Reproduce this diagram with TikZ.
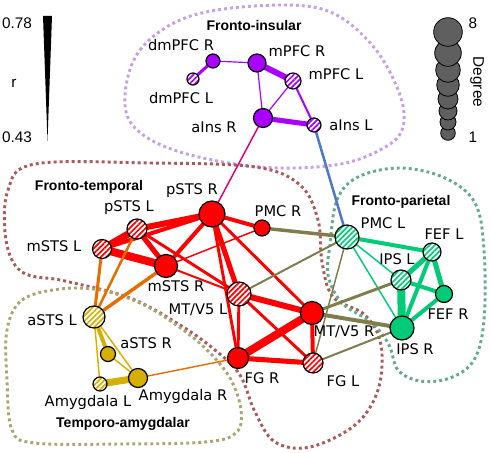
\documentclass[tikz,border=0pt]{standalone}
\usepackage{fontspec}
\setmainfont{DejaVu Sans}
\newfontfamily\arialfont{Liberation Sans}
\usetikzlibrary{patterns.meta}

\definecolor{ftred}{RGB}{255,0,0}
\definecolor{fipurple}{RGB}{170,0,255}
\definecolor{fpgreen}{RGB}{0,204,120}
\definecolor{tagold}{RGB}{215,175,0}
\definecolor{taorange}{RGB}{230,110,0}
\definecolor{fpolive}{RGB}{128,124,75}
\definecolor{fipink}{RGB}{220,0,120}
\definecolor{fiblue}{RGB}{80,120,200}
\definecolor{hullpurple}{RGB}{200,160,225}
\definecolor{hullred}{RGB}{170,90,90}
\definecolor{hullolive}{RGB}{170,165,115}
\definecolor{hullgreen}{RGB}{100,170,140}
\definecolor{degreegray}{RGB}{95,95,95}

\pgfdeclarelayer{hulls}
\pgfdeclarelayer{links}
\pgfsetlayers{hulls,links,main}

\begin{document}
\begin{tikzpicture} [
                x=0.75pt, y=-0.75pt,
                regionnode/.style={
                    circle,
                    draw,
                    line width=0.9pt,
                    inner sep=0pt,
                    minimum size=#1*1.5pt
                },
                hatch/.style={
                    preaction={fill=white},
                    pattern={Lines[angle=45,distance=2.8pt,line width=1.3pt]},
                    pattern color=#1
                },
                lbl/.style={font=\fontsize{11}{13}\selectfont, inner sep=0pt},
                ttl/.style={font=\arialfont\bfseries\fontsize{10.5}{12}\selectfont, inner sep=0pt},
                leg/.style={font=\arialfont\fontsize{11.5}{13}\selectfont, inner sep=0pt},
                hull/.style={draw=#1, line width=2.2pt, dash pattern=on 2.2pt off 2.3pt},
                lk/.style={line width=#1pt}
            ]

                \useasboundingbox (0,0) rectangle (490,453);

                \node[regionnode=7,    fill=fipurple]    (dmpfcR)    at (213,61)     {};
                \node[regionnode=6,    hatch=fipurple]   (dmpfcL)    at (193,79)     {};
                \node[regionnode=9,    fill=fipurple]    (mpfcR)     at (257,63)     {};
                \node[regionnode=8,    hatch=fipurple]   (mpfcL)     at (293,81)     {};
                \node[regionnode=9.5,  fill=fipurple]    (ainsR)     at (263,118)    {};
                \node[regionnode=7,    hatch=fipurple]   (ainsL)     at (314,125)    {};

                \node[regionnode=13,   fill=ftred]       (pstsR)     at (212,214)    {};
                \node[regionnode=10,   hatch=ftred]      (pstsL)     at (137,229)    {};
                \node[regionnode=9.5,  hatch=ftred]      (mstsL)     at (102,249)    {};
                \node[regionnode=11.5, fill=ftred]       (mstsR)     at (166,266)    {};
                \node[regionnode=12,   hatch=ftred]      (mtL)       at (239,294)    {};
                \node[regionnode=11.5, fill=ftred]       (mtR)       at (312,313)    {};
                \node[regionnode=10.5, fill=ftred]       (fgR)       at (238,358)    {};
                \node[regionnode=10,   hatch=ftred]      (fgL)       at (313,363)    {};
                \node[regionnode=8,    fill=ftred]       (pmcR)      at (262,228)    {};

                \node[regionnode=12,   hatch=fpgreen]    (pmcL)      at (347,237)    {};
                \node[regionnode=9,    hatch=fpgreen]    (fefL)      at (432,252)    {};
                \node[regionnode=10,   hatch=fpgreen]    (ipsL)      at (401,280)    {};
                \node[regionnode=8.5,  fill=fpgreen]     (fefR)      at (444,294)    {};
                \node[regionnode=12,   fill=fpgreen]     (ipsR)      at (402,328)    {};

                \node[regionnode=11,   hatch=tagold]     (astsL)     at (94,317)     {};
                \node[regionnode=7.5,  fill=tagold]      (astsR)     at (108,354)    {};
                \node[regionnode=7,    hatch=tagold]     (amyL)      at (100,384)    {};
                \node[regionnode=9.5,  fill=tagold]      (amyR)      at (138,378)    {};

                \node[lbl]  (dmpfcRlbl)  at (181,45)     {dmPFC R};
                \node[lbl]  (dmpfcLlbl)  at (181,98)     {dmPFC L};
                \node[lbl]  (mpfcRlbl)   at (297,51)     {mPFC R};
                \node[lbl]  (mpfcLlbl)   at (336,74)     {mPFC L};
                \node[lbl]  (ainsRlbl)   at (214,127)    {aIns R};
                \node[lbl]  (ainsLlbl)   at (351,125)    {aIns L};
                \node[lbl]  (pstsRlbl)   at (192,191)    {pSTS R};
                \node[lbl]  (pstsLlbl)   at (129,208)    {pSTS L};
                \node[lbl]  (mstsLlbl)   at (54,246)     {mSTS L};
                \node[lbl]  (mstsRlbl)   at (176,286)    {mSTS R};
                \node[lbl]  (mtLlbl)     at (198,310)    {MT/V5 L};
                \node[lbl]  (mtRlbl)     at (344,332)    {MT/V5 R};
                \node[lbl]  (fgRlbl)     at (262,378)    {FG R};
                \node[lbl]  (fgLlbl)     at (343,381)    {FG L};
                \node[lbl]  (pmcRlbl)    at (278,211)    {PMC R};
                \node[lbl]  (pmcLlbl)    at (383,223)    {PMC L};
                \node[lbl]  (fefLlbl)    at (444,234)    {FEF L};
                \node[lbl]  (ipsLlbl)    at (397,259)    {IPS L};
                \node[lbl]  (fefRlbl)    at (448,314)    {FEF R};
                \node[lbl]  (ipsRlbl)    at (415,349)    {IPS R};
                \node[lbl]  (astsLlbl)   at (52,320)     {aSTS L};
                \node[lbl]  (astsRlbl)   at (146,343)    {aSTS R};
                \node[lbl]  (amyLlbl)    at (88,402)     {Amygdala L};
                \node[lbl]  (amyRlbl)    at (183,396)    {Amygdala R};

                \node[ttl]  (fiTitle)    at (254,25)     {Fronto-insular};
                \node[ttl]  (ftTitle)    at (89,187)     {Fronto-temporal};
                \node[ttl]  (fpTitle)    at (401,202)    {Fronto-parietal};
                \node[ttl]  (taTitle)    at (123,424)    {Temporo-amygdalar};

                \fill (43,16) -- (52,16) -- (47.5,141) -- cycle;
                \node[leg]  (rHi)        at (17,23)      {0.78};
                \node[leg]  (rName)      at (14,83)      {r};
                \node[leg]  (rLo)        at (17,137)     {0.43};

                \foreach \cy/\cr in {133/7.3, 122/8, 111/9, 99/10, 85/11.3, 70/12.3, 53/13.3, 32/14.3}
                    \draw[fill=degreegray, line width=0.6pt] (448,\cy) circle[radius=\cr*0.75pt];
                \node[leg]  (degHi)      at (473,23)     {8};
                \node[leg]  (degLo)      at (473,137)    {1};
                \node[leg, rotate=-90] (degName) at (477,82) {Degree};

                \begin{pgfonlayer}{hulls}
                \draw[hull=hullpurple] plot[smooth cycle, tension=0.6] coordinates {(125,95) (140,50) (185,18) (255,6) (325,10) (372,45) (400,95) (402,130) (380,150) (335,165) (260,167) (180,152) (135,128)};
                \draw[hull=hullred] plot[smooth cycle, tension=0.6] coordinates {(35,164) (150,163) (255,167) (300,185) (318,220) (322,262) (333,297) (365,315) (381,345) (378,390) (355,425) (310,447) (275,442) (255,412) (240,375) (215,350) (180,325) (130,298) (65,281) (22,272) (6,240) (8,190)};
                \draw[hull=hullolive] plot[smooth cycle, tension=0.6] coordinates {(7,330) (22,300) (60,289) (100,290) (140,303) (172,322) (205,348) (230,378) (241,410) (236,433) (205,442) (120,444) (35,443) (12,430) (7,380)};
                \draw[hull=hullgreen] plot[smooth cycle, tension=0.6] coordinates {(330,245) (337,200) (358,177) (400,168) (445,178) (475,203) (484,250) (484,320) (474,360) (450,378) (420,381) (398,370) (389,345) (372,323) (342,303) (328,275)};
                \end{pgfonlayer}

                \begin{pgfonlayer}{links}
                \draw[lk=2.3, fipurple]  (dmpfcR.center) -- (dmpfcL.center);
                \draw[lk=0.9, fipurple]  (dmpfcR.center) -- (mpfcR.center);
                \draw[lk=4.5, fipurple]  (mpfcR.center)  -- (mpfcL.center);
                \draw[lk=0.9, fipurple]  (mpfcR.center)  -- (ainsR.center);
                \draw[lk=0.9, fipurple]  (mpfcL.center)  -- (ainsR.center);
                \draw[lk=1.5, fipurple]  (mpfcL.center)  -- (ainsL.center);
                \draw[lk=3.8, fipurple]  (ainsR.center)  -- (ainsL.center);

                \draw[lk=1.1, fipink]    (ainsR.center)  -- (pstsR.center);
                \draw[lk=1.9, fiblue]    (ainsL.center)  -- (pmcL.center);

                \draw[lk=4.5, ftred]     (pstsL.center)  -- (pstsR.center);
                \draw[lk=5.3, ftred]     (pstsL.center)  -- (mstsL.center);
                \draw[lk=6,   ftred]     (mstsL.center)  -- (mstsR.center);
                \draw[lk=3.8, ftred]     (pstsL.center)  -- (mstsR.center);
                \draw[lk=3,   ftred]     (mstsL.center)  -- (pstsR.center);
                \draw[lk=2.2, ftred]     (pstsL.center)  -- (mtL.center);
                \draw[lk=1.5, ftred]     (mstsR.center)  -- (mtL.center);
                \draw[lk=3,   ftred]     (pstsR.center)  -- (mstsR.center);
                \draw[lk=3,   ftred]     (pstsR.center)  -- (pmcR.center);
                \draw[lk=3.8, ftred]     (pstsR.center)  -- (mtL.center);
                \draw[lk=2.2, ftred]     (pstsR.center)  -- (fgR.center);
                \draw[lk=2.2, ftred]     (pstsR.center)  -- (mtR.center);
                \draw[lk=1.1, ftred]     (mstsR.center)  -- (pmcR.center);
                \draw[lk=4.5, ftred]     (mtL.center)    -- (mtR.center);
                \draw[lk=2.2, ftred]     (mtL.center)    -- (fgR.center);
                \draw[lk=2.2, ftred]     (mtL.center)    -- (fgL.center);
                \draw[lk=6,   ftred]     (mtR.center)    -- (fgR.center);
                \draw[lk=3,   ftred]     (mtR.center)    -- (fgL.center);
                \draw[lk=3.8, ftred]     (fgR.center)    -- (fgL.center);

                \draw[lk=2.3, taorange]  (astsL.center)  -- (mstsL.center);
                \draw[lk=1.9, taorange]  (astsL.center)  -- (pstsL.center);
                \draw[lk=2.6, taorange]  (astsL.center)  -- (mstsR.center);
                \draw[lk=1.1, taorange]  (amyR.center)   -- (fgR.center);

                \draw[lk=3,   tagold]    (astsL.center)  -- (astsR.center);
                \draw[lk=1.1, tagold]    (astsL.center)  -- (amyL.center);
                \draw[lk=1.1, tagold]    (astsL.center)  -- (amyR.center);
                \draw[lk=1.1, tagold]    (astsR.center)  -- (amyR.center);
                \draw[lk=5.3, tagold]    (amyL.center)   -- (amyR.center);

                \draw[lk=3,   fpgreen]   (pmcL.center)   -- (fefL.center);
                \draw[lk=1.1, fpgreen]   (pmcL.center)   -- (ipsL.center);
                \draw[lk=1.1, fpgreen]   (pmcL.center)   -- (ipsR.center);
                \draw[lk=3.8, fpgreen]   (fefL.center)   -- (ipsL.center);
                \draw[lk=3,   fpgreen]   (fefL.center)   -- (ipsR.center);
                \draw[lk=3.8, fpgreen]   (fefL.center)   -- (fefR.center);
                \draw[lk=6,   fpgreen]   (ipsL.center)   -- (ipsR.center);
                \draw[lk=3,   fpgreen]   (ipsL.center)   -- (fefR.center);
                \draw[lk=3,   fpgreen]   (ipsR.center)   -- (fefR.center);

                \draw[lk=2.6, fpolive]   (pmcR.center)   -- (pmcL.center);
                \draw[lk=1.5, fpolive]   (mtL.center)    -- (pmcL.center);
                \draw[lk=2.2, fpolive]   (mtR.center)    -- (ipsL.center);
                \draw[lk=3,   fpolive]   (mtR.center)    -- (ipsR.center);
                \draw[lk=1.5, fpolive]   (fgL.center)    -- (ipsR.center);
                \draw[lk=1.1, fpolive]   (fgL.center)    -- (pmcL.center);
                \end{pgfonlayer}

            \end{tikzpicture}
\end{document}
